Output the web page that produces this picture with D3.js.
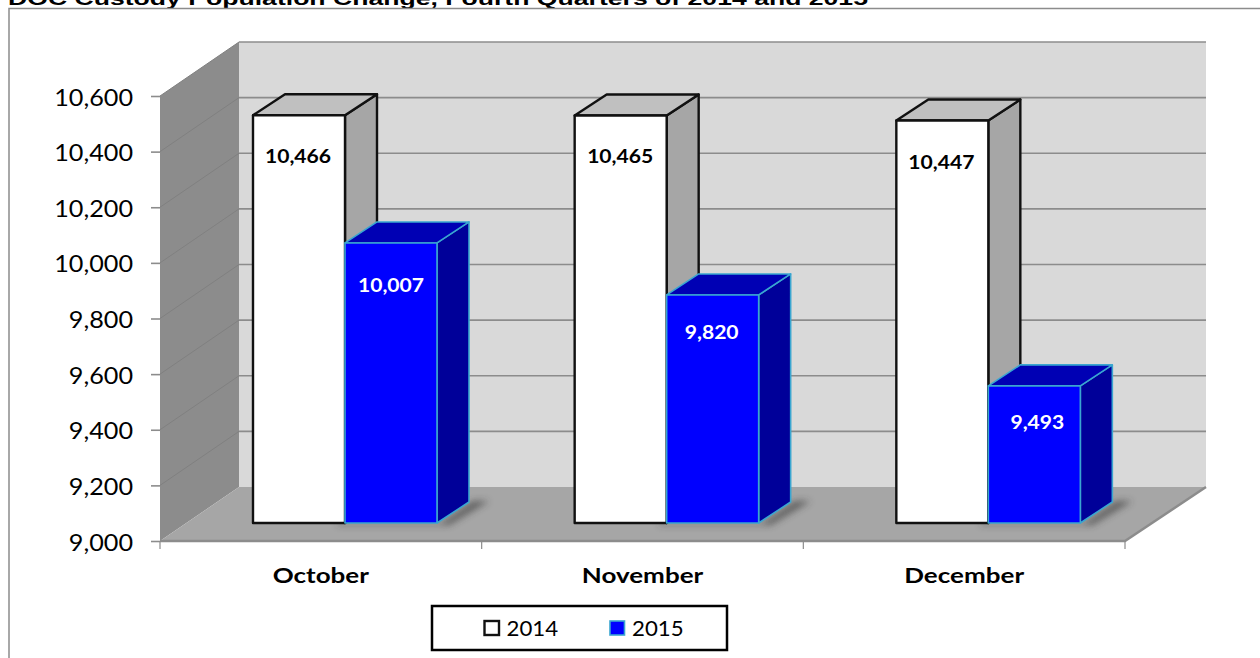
<!DOCTYPE html>
<html>
<head>
<meta charset="utf-8">
<script src="https://cdn.jsdelivr.net/npm/d3@7"></script>
<style>
  html, body { margin: 0; padding: 0; background: #fff; overflow: hidden; }
  svg { display: block; }
  text { font-family: Lato, "Noto Sans", sans-serif; fill: #000; }
</style>
</head>
<body>
<div id="chart"></div>
<script>
// Values
const months = ["October", "November", "December"];
const series = ["2014", "2015"];
const values2014 = [10466, 10465, 10447];
const values2015 = [10007, 9820, 9493];
const yTicks = [9000, 9200, 9400, 9600, 9800, 10000, 10200, 10400, 10600];
const titleText = "DOC Custody Population Change, Fourth Quarters of 2014 and 2015";

// Page size and the fake 3D projection
const width = 1260;
const height = 658;
const wall = { dx: 79, dy: -54, rightDx: 81 }; // front of floor to back wall
const barPlane = { dy: -18 };                  // front of floor to front of the bars
const depth = { dx: 32, dy: -21 };             // bar front to bar back

const colors = {
  "2014": { front: "#ffffff", top: "#c0c0c0", side: "#a6a6a6", stroke: "#111111", width: 2.4 },
  "2015": { front: "#0000ff", top: "#0000b4", side: "#000099", stroke: "#3aa6d0", width: 1.6 }
};

// The picture's text is stretched sideways, so stretch ours the same way
const stretch = { title: 1.478, tick: 1.12, month: 1.21, value: 1.14, legend: 1.06 };

const svg = d3.select("#chart")
  .append("svg")
    .attr("width", width)
    .attr("height", height);

// Scales
const x = d3.scaleBand().domain(months).range([160, 1125]);
const xBar = d3.scaleBand().domain(series).range([93, 277]);
const y = d3.scaleLinear().domain([9000, 10600]).range([541, 96]);

const line = d3.line();
const poly = pts => line(pts) + "Z";

// Blur for the shadow on the floor
svg.append("defs").append("filter")
    .attr("id", "soft")
    .attr("x", "-30%").attr("y", "-100%")
    .attr("width", "160%").attr("height", "300%")
  .append("feGaussianBlur")
    .attr("stdDeviation", 3.5);

// Title, cut by the top of the page as in the picture
svg.append("text")
  .attr("transform", `translate(8,4.5) scale(${stretch.title},1)`)
  .style("font-family", '"Liberation Sans", Arial, sans-serif')
  .style("font-weight", "bold")
  .style("font-size", "18px")
  .text(titleText);

// Outer chart border (runs off the right and bottom)
svg.append("path")
  .attr("d", line([[9, height], [9, 8.5], [width, 8.5]]))
  .attr("fill", "none")
  .attr("stroke", "#8c8c8c")
  .attr("stroke-width", 1.5);

const x0 = x.range()[0];
const x1 = x.range()[1];
const yBase = y(yTicks[0]);
const yTop = y(yTicks[yTicks.length - 1]);

// Back wall, side wall and floor
svg.append("path")
  .attr("d", poly([[x0 + wall.dx, yTop + wall.dy], [x1 + wall.rightDx, yTop + wall.dy], [x1 + wall.rightDx, yBase + wall.dy], [x0 + wall.dx, yBase + wall.dy]]))
  .attr("fill", "#d9d9d9");
svg.append("path")
  .attr("d", poly([[x0, yTop], [x0 + wall.dx, yTop + wall.dy], [x0 + wall.dx, yBase + wall.dy], [x0, yBase]]))
  .attr("fill", "#8c8c8c");
svg.append("path")
  .attr("d", poly([[x0, yBase], [x1, yBase], [x1 + wall.rightDx, yBase + wall.dy], [x0 + wall.dx, yBase + wall.dy]]))
  .attr("fill", "#a6a6a6");

// Gridlines on both walls
const grid = svg.append("g").attr("class", "grid");
grid.selectAll("line.back")
  .data(yTicks.slice(1))
  .enter().append("line")
    .attr("class", "back")
    .attr("x1", x0 + wall.dx)
    .attr("x2", x1 + wall.rightDx)
    .attr("y1", d => y(d) + wall.dy)
    .attr("y2", d => y(d) + wall.dy)
    .attr("stroke", "#8c8c8c")
    .attr("stroke-width", 1.6);
grid.selectAll("line.side")
  .data(yTicks.slice(1))
  .enter().append("line")
    .attr("class", "side")
    .attr("x1", x0)
    .attr("x2", x0 + wall.dx)
    .attr("y1", d => y(d))
    .attr("y2", d => y(d) + wall.dy)
    .attr("stroke", "#808080")
    .attr("stroke-width", 1);

// Floor edges
svg.append("path")
  .attr("d", line([[x0, yBase], [x1, yBase], [x1 + wall.rightDx, yBase + wall.dy]]))
  .attr("fill", "none")
  .attr("stroke", "#8c8c8c")
  .attr("stroke-width", 2.5);

// The labels in the picture are not quite lined up from bar to bar
const labelNudge = {
  "2014": [[-1, 2], [-0.5, 1.5], [-1, 2.5]],
  "2015": [[0, 3], [-1, -2], [3, -3]]
};

// One row per bar
const bars = [];
months.forEach((m, i) => {
  bars.push({ month: m, key: "2014", value: values2014[i], nudge: labelNudge["2014"][i] });
  bars.push({ month: m, key: "2015", value: values2015[i], nudge: labelNudge["2015"][i] });
});

const barX = d => x(d.month) + xBar(d.key);
const barTop = d => y(d.value) + barPlane.dy;
const barBottom = yBase + barPlane.dy;

// Shadows first so that no bar is covered by them
svg.append("g").selectAll("path")
  .data(bars.filter(d => d.key === "2015"))
  .enter().append("path")
    .attr("d", d => {
      const r = barX(d) + xBar.bandwidth();
      return poly([[r - 100, barBottom], [r + 4, barBottom], [r + depth.dx + 4, barBottom + depth.dy - 1], [r + depth.dx + 20, barBottom + depth.dy - 1], [r + 12, barBottom + 2], [r - 100, barBottom + 2]]);
    })
    .attr("fill", "#303030")
    .attr("opacity", 0.6)
    .attr("filter", "url(#soft)");

// Bars: side, top and front faces
const barG = svg.append("g").selectAll("g")
  .data(bars)
  .enter().append("g")
    .attr("stroke", d => colors[d.key].stroke)
    .attr("stroke-width", d => colors[d.key].width)
    .attr("stroke-linejoin", "round");

barG.append("path")
  .attr("fill", d => colors[d.key].side)
  .attr("d", d => {
    const r = barX(d) + xBar.bandwidth();
    return poly([[r, barTop(d)], [r + depth.dx, barTop(d) + depth.dy], [r + depth.dx, barBottom + depth.dy], [r, barBottom]]);
  });
barG.append("path")
  .attr("fill", d => colors[d.key].top)
  .attr("d", d => {
    const l = barX(d);
    const r = l + xBar.bandwidth();
    return poly([[l, barTop(d)], [l + depth.dx, barTop(d) + depth.dy], [r + depth.dx, barTop(d) + depth.dy], [r, barTop(d)]]);
  });
barG.append("rect")
  .attr("fill", d => colors[d.key].front)
  .attr("x", barX)
  .attr("y", barTop)
  .attr("width", xBar.bandwidth())
  .attr("height", d => barBottom - barTop(d));

// Value labels sit a little below the top of each bar
const labelDrop = 46;
svg.append("g").selectAll("text")
  .data(bars)
  .enter().append("text")
    .attr("transform", d => `translate(${barX(d) + xBar.bandwidth() / 2 + d.nudge[0]},${barTop(d) + labelDrop + d.nudge[1]}) scale(${stretch.value},1)`)
    .attr("text-anchor", "middle")
    .style("font-size", "18.5px")
    .style("font-weight", "bold")
    .style("fill", d => d.key === "2015" ? "#fff" : "#000")
    .text(d => d3.format(",")(d.value));

// Y axis
const yAxis = svg.append("g")
  .attr("transform", `translate(${x0},0)`)
  .call(d3.axisLeft(y).tickValues(yTicks).tickFormat(d3.format(",")).tickSize(9).tickPadding(0));
yAxis.select(".domain").remove();
yAxis.selectAll("line").attr("stroke", "#8c8c8c").attr("stroke-width", 1.6);
yAxis.selectAll("text")
  .attr("x", 0)
  .attr("dy", null)
  .attr("y", 9)
  .attr("transform", `translate(-27,0) scale(${stretch.tick},1)`)
  .style("font-size", "22.5px")
  .style("font-family", "Lato, sans-serif");

// X axis: month names, with the tick marks between the categories
const xAxis = svg.append("g")
  .attr("transform", `translate(0,${yBase})`)
  .call(d3.axisBottom(x).tickSize(0).tickPadding(0));
xAxis.select(".domain").remove();
xAxis.selectAll("text")
  .attr("y", 42)
  .attr("dy", null)
  .attr("transform", `scale(${stretch.month},1)`)
  .style("font-size", "21.5px")
  .style("font-weight", "bold")
  .style("font-family", "Lato, sans-serif");
xAxis.selectAll("line.sep")
  .data(months.map(m => x(m)).concat([x1]))
  .enter().append("line")
    .attr("class", "sep")
    .attr("x1", d => d)
    .attr("x2", d => d)
    .attr("y1", 0)
    .attr("y2", 8)
    .attr("stroke", "#8c8c8c")
    .attr("stroke-width", 1.2);

// Legend
const legend = svg.append("g").attr("transform", "translate(432,606)");
legend.append("rect")
  .attr("width", 295)
  .attr("height", 44)
  .attr("fill", "#fff")
  .attr("stroke", "#000")
  .attr("stroke-width", 2.5);
const legendX = d3.scaleOrdinal().domain(series).range([52.5, 178]);
const legendItem = legend.selectAll("g.item")
  .data(series)
  .enter().append("g")
    .attr("class", "item")
    .attr("transform", d => `translate(${legendX(d)},15)`);
legendItem.append("rect")
  .attr("width", 14.5)
  .attr("height", 14)
  .attr("fill", d => colors[d].front)
  .attr("stroke", d => colors[d].stroke)
  .attr("stroke-width", d => colors[d].width);
legendItem.append("text")
  .attr("transform", `translate(22,14.5) scale(${stretch.legend},1)`)
  .style("font-size", "21px")
  .text(d => d);
</script>
</body>
</html>
